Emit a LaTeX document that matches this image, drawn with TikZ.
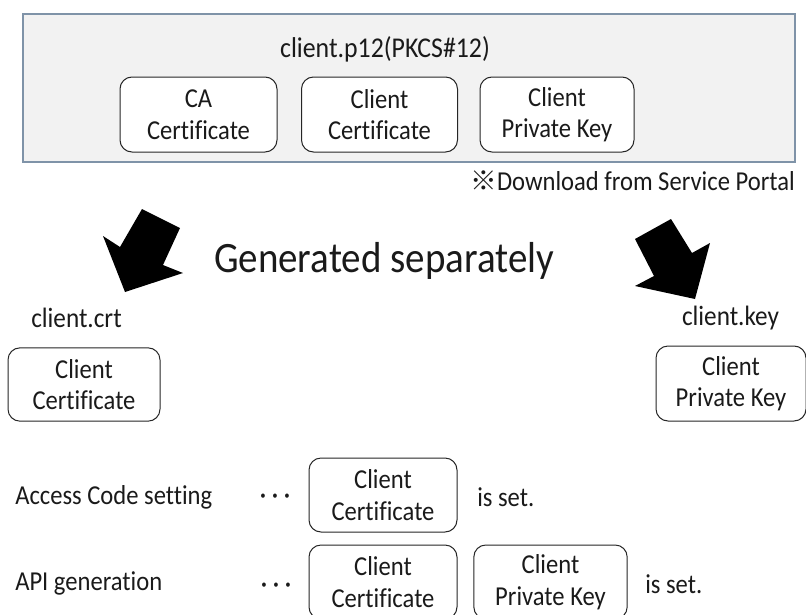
\documentclass[tikz,border=0pt]{standalone}
\usepackage{fontspec}
\setmainfont[FakeStretch=0.9,Ligatures=CommonOff]{Carlito}
\newfontfamily\symfont{Noto Sans CJK JP}
\definecolor{panelfill}{HTML}{F2F2F2}
\definecolor{paneledge}{HTML}{7F93A8}
\definecolor{inktext}{HTML}{1A1A1A}
\newcommand{\threedots}{{\fontsize{9}{10}\selectfont •\hspace{5pt}•\hspace{5pt}•}}
\begin{document}
\begin{tikzpicture}[x=0.75pt,y=-0.75pt,
 every node/.style={text=inktext},
 keybox/.style={draw=black!85,line width=0.75pt,rounded corners=9pt,align=center,font=\fontsize{20.5}{23.6}\selectfont,inner sep=0pt,fill=white},
 lbl/.style={anchor=west,font=\fontsize{20.5}{22}\selectfont,inner sep=0pt},
 bigarrow/.style={fill=black,draw=none}]
\useasboundingbox (0,0) rectangle (806,614);
\node[draw=paneledge,fill=panelfill,line width=0.9pt,inner sep=0pt,minimum width=579pt,minimum height=111pt] (panel) at (409,88) {};
\node[lbl,anchor=center,font=\fontsize{21.5}{22}\selectfont] (p12) at (385,49) {client.p12(PKCS\#12)};
\node[keybox,minimum width=117.75pt,minimum height=56.25pt] (ca) at (198.5,114.5) {CA\\Certificate};
\node[keybox,minimum width=117pt,minimum height=56.25pt] (cc) at (379.5,114.5) {Client\\Certificate};
\node[keybox,minimum width=115.5pt,minimum height=56.25pt] (pk) at (557,114.5) {Client\\Private Key};
\node[lbl,anchor=east] (dl) at (795,181) {{\symfont\fontsize{20}{20}\selectfont ※}Download from Service Portal};
\fill[bigarrow] (142,209) -- (180,228) -- (163,265) -- (183,273) -- (125,292) -- (103,236) -- (120,247) -- cycle;
\fill[bigarrow] (671,219) -- (635,239) -- (654,276) -- (635,286) -- (695,299) -- (710,243) -- (692,253) -- cycle;
\node[anchor=center,inner sep=0pt,font=\fontsize{32.5}{36}\selectfont] (gen) at (384,261) {Generated separately};
\node[lbl,anchor=center,font=\fontsize{21}{22}\selectfont] (crt) at (76.5,318) {client.crt};
\node[lbl,anchor=center,font=\fontsize{21}{22}\selectfont] (key) at (730.5,318) {client.key};
\node[keybox,minimum width=114pt,minimum height=55pt] (lc) at (84,384.5) {Client\\Certificate};
\node[keybox,minimum width=112.5pt,minimum height=56.25pt] (rp) at (731,383.5) {Client\\Private Key};
\node[lbl] (ac) at (15,497) {Access Code setting};
\node[inner sep=0pt] (d1) at (275,497) {\threedots};
\node[keybox,minimum width=111pt,minimum height=55.5pt] (b1) at (383,495) {Client\\Certificate};
\node[lbl] (s1) at (477,497) {is set.};
\node[lbl] (api) at (15,583) {API generation};
\node[inner sep=0pt] (d2) at (276,586) {\threedots};
\node[keybox,minimum width=111pt,minimum height=55.5pt] (b2) at (383,582) {Client\\Certificate};
\node[keybox,minimum width=115pt,minimum height=55.5pt] (b3) at (550.5,582) {Client\\Private Key};
\node[lbl] (s2) at (645,584) {is set.};
\end{tikzpicture}
\end{document}
